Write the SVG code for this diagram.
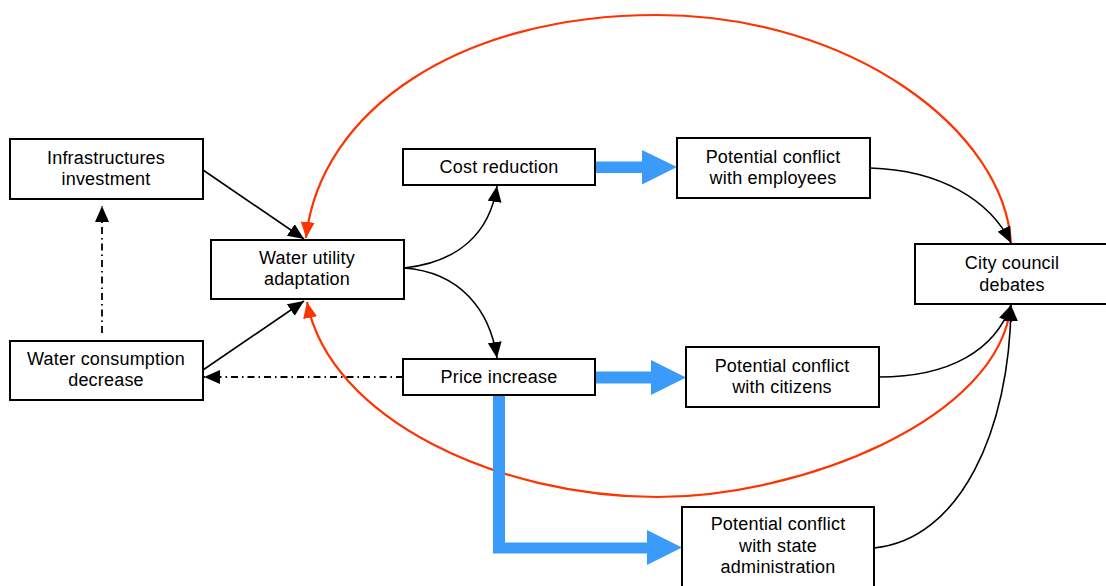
<svg xmlns="http://www.w3.org/2000/svg" width="1106" height="586" viewBox="0 0 1106 586">
<style>
.box{fill:#fff;stroke:#000;stroke-width:2}
.t{font-family:"Liberation Sans",Arial,sans-serif;font-size:18px;letter-spacing:0.2px;fill:#000;text-anchor:middle}
.c{fill:none;stroke:#000;stroke-width:1.6}
.d{fill:none;stroke:#000;stroke-width:1.8;stroke-dasharray:7 4 1.5 4}
.r{fill:none;stroke:#ff3300;stroke-width:2.2}
.b{fill:#3a9bfa}
</style>
<defs>
<marker id="ah" viewBox="0 0 16 14" refX="16" refY="7" markerWidth="16" markerHeight="14" markerUnits="userSpaceOnUse" orient="auto"><path d="M0,0 L16,7 L0,14 Z" fill="#000"/></marker>
<marker id="rh" viewBox="0 0 16 14" refX="16" refY="7" markerWidth="16" markerHeight="14" markerUnits="userSpaceOnUse" orient="auto"><path d="M0,0 L16,7 L0,14 Z" fill="#ff3300"/></marker>
</defs>
<g id="connectors">
<path class="r" d="M1011,244 C1005,130 850,15 657,15 C460,15 320,110 306,238" marker-end="url(#rh)"/>
<path class="r" d="M1011,304 C1000,420 800,497 657,497 C500,497 330,420 307,302" marker-end="url(#rh)"/>
<path class="c" d="M203,170 L304,239" marker-end="url(#ah)"/>
<path class="c" d="M203,370 L304,301" marker-end="url(#ah)"/>
<path class="d" d="M102,333 L102,206" marker-end="url(#ah)"/>
<path class="d" d="M403,377 L204,377" marker-end="url(#ah)"/>
<path class="c" d="M404,268 C460,262 490,232 497,186" marker-end="url(#ah)"/>
<path class="c" d="M404,268 C460,272 490,310 497,358" marker-end="url(#ah)"/>
<path class="c" d="M870,168 C940,170 990,200 1011,243" marker-end="url(#ah)"/>
<path class="c" d="M879,377 C950,377 995,350 1011,305" marker-end="url(#ah)"/>
<path class="c" d="M874,548 C960,540 1010,430 1011,305" marker-end="url(#ah)"/>
<path class="b" d="M595,161.5 L642,161.5 L642,150 L677,167 L642,184.5 L642,173 L595,173 Z"/>
<path class="b" d="M595,371.5 L651,371.5 L651,360 L686,377.5 L651,395 L651,383.5 L595,383.5 Z"/>
<path class="b" d="M493,395 L505,395 L505,542.5 L647,542.5 L647,530 L682,547.5 L647,565 L647,553.5 L493,553.5 Z"/>
</g>
<g id="n-infra"><rect class="box" x="10" y="139" width="193" height="60"/><text class="t" x="106" y="164">Infrastructures</text><text class="t" x="106" y="185">investment</text></g>
<g id="n-wua"><rect class="box" x="211" y="240" width="193" height="59"/><text class="t" x="307" y="264">Water utility</text><text class="t" x="307" y="285">adaptation</text></g>
<g id="n-wcd"><rect class="box" x="10" y="341" width="193" height="59"/><text class="t" x="106" y="365">Water consumption</text><text class="t" x="106" y="386">decrease</text></g>
<g id="n-cost"><rect class="box" x="403" y="149" width="192" height="36"/><text class="t" x="499" y="173">Cost reduction</text></g>
<g id="n-price"><rect class="box" x="403" y="359" width="192" height="36"/><text class="t" x="499" y="383">Price increase</text></g>
<g id="n-emp"><rect class="box" x="677" y="138" width="193" height="60"/><text class="t" x="773" y="163">Potential conflict</text><text class="t" x="773" y="184">with employees</text></g>
<g id="n-cit"><rect class="box" x="686" y="347" width="193" height="60"/><text class="t" x="782" y="372">Potential conflict</text><text class="t" x="782" y="393">with citizens</text></g>
<g id="n-city"><rect class="box" x="915" y="244" width="192" height="60"/><text class="t" x="1012" y="269">City council</text><text class="t" x="1012" y="291">debates</text></g>
<g id="n-state"><rect class="box" x="682" y="507" width="192" height="84"/><text class="t" x="778" y="530">Potential conflict</text><text class="t" x="778" y="552">with state</text><text class="t" x="778" y="573">administration</text></g>
</svg>
